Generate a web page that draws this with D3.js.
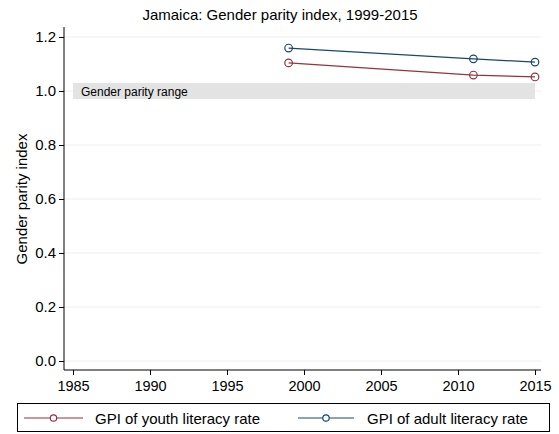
<!DOCTYPE html>
<html><head><meta charset="utf-8">
<script src="https://cdn.jsdelivr.net/npm/d3@7"></script>
<style>body{margin:0;background:#fff;font-family:"Liberation Sans",Arial,sans-serif;}</style>
</head><body><svg id="c" width="559" height="434"></svg>
<script>
const years = [1999, 2011, 2015];
const youthGPI = [1.104, 1.059, 1.052];
const adultGPI = [1.159, 1.119, 1.107];
const seriesNames = ["GPI of youth literacy rate", "GPI of adult literacy rate"];
const seriesColors = ["#90353b", "#1a476f"];
const yTicks = [0.0, 0.2, 0.4, 0.6, 0.8, 1.0, 1.2];
const xTicks = [1985, 1990, 1995, 2000, 2005, 2010, 2015];
const parityRange = [0.97, 1.03];
const title = "Jamaica: Gender parity index, 1999-2015";

const FONT = "Liberation Sans, Arial, sans-serif";
const svg = d3.select("#c").attr("font-family", FONT);
const x = d3.scaleLinear().domain([1985, 2015]).range([73, 535]);
const y = d3.scaleLinear().domain([0, 1.2]).range([361, 37]);
const pL = 64, pR = 541, pT = 27, pB = 370;

// gridlines
svg.append("g").selectAll("line").data(yTicks).join("line")
  .attr("x1", pL).attr("x2", pR).attr("y1", d => y(d)).attr("y2", d => y(d))
  .attr("stroke", "#eeeeee").attr("stroke-width", 1);

// parity band
svg.append("rect").attr("x", x(1985)).attr("width", x(2015) - x(1985))
  .attr("y", y(parityRange[1])).attr("height", y(parityRange[0]) - y(parityRange[1]))
  .attr("fill", "#e3e3e3");
svg.append("text").attr("x", x(1985) + 8).attr("y", y(1.0) + 4.5)
  .attr("font-size", 12).attr("fill", "#000").text("Gender parity range");

// axes
const yAxis = d3.axisLeft(y).tickValues(yTicks).tickFormat(d3.format(".1f")).tickSize(5).tickPadding(3);
const gy = svg.append("g").attr("transform", `translate(${pL},0)`).call(yAxis);
gy.select(".domain").attr("d", `M0,${pT}V${pB}`);
const xAxis = d3.axisBottom(x).tickValues(xTicks).tickFormat(d3.format("d")).tickSize(5).tickPadding(6);
const gx = svg.append("g").attr("transform", `translate(0,${pB})`).call(xAxis);
gx.select(".domain").attr("d", `M${pL},0H${pR}`);
gy.attr("font-family", FONT).attr("font-size", 15);
gx.attr("font-family", FONT).attr("font-size", 14.5);
[gx, gy].forEach(g => {
  g.selectAll("text").attr("fill", "#000");
  g.selectAll("line, path").attr("stroke", "#000");
});

// series
const series = [youthGPI, adultGPI];
const line = d3.line().x((d, i) => x(years[i])).y(d => y(d));
series.forEach((vals, k) => {
  svg.append("path").datum(vals).attr("d", line).attr("fill", "none")
    .attr("stroke", seriesColors[k]).attr("stroke-width", 1.2);
  svg.append("g").selectAll("circle").data(vals).join("circle")
    .attr("cx", (d, i) => x(years[i])).attr("cy", d => y(d)).attr("r", 3.8)
    .attr("fill", "none").attr("stroke", seriesColors[k]).attr("stroke-width", 1.2);
});

// title
svg.append("text").attr("x", 280).attr("y", 20).attr("text-anchor", "middle")
  .attr("font-size", 15).text(title);
// y label
svg.append("text").attr("transform", "translate(27,199) rotate(-90)").attr("text-anchor", "middle")
  .attr("font-size", 15).text("Gender parity index");

// legend
svg.append("rect").attr("x", 17.5).attr("y", 403.5).attr("width", 532).attr("height", 28)
  .attr("fill", "#fff").attr("stroke", "#000").attr("stroke-width", 1);
const legX = [[24, 83, 95], [298, 354, 367]];
seriesNames.forEach((name, k) => {
  const [x1, x2, tx] = legX[k];
  svg.append("line").attr("x1", x1).attr("x2", x2).attr("y1", 418).attr("y2", 418)
    .attr("stroke", seriesColors[k]).attr("stroke-width", 1.2);
  svg.append("circle").attr("cx", (x1 + x2) / 2).attr("cy", 418).attr("r", 3.2)
    .attr("fill", "#fff").attr("stroke", seriesColors[k]).attr("stroke-width", 1.2);
  svg.append("text").attr("x", tx).attr("y", 423.5).attr("font-size", 15).text(name);
});
</script></body></html>
